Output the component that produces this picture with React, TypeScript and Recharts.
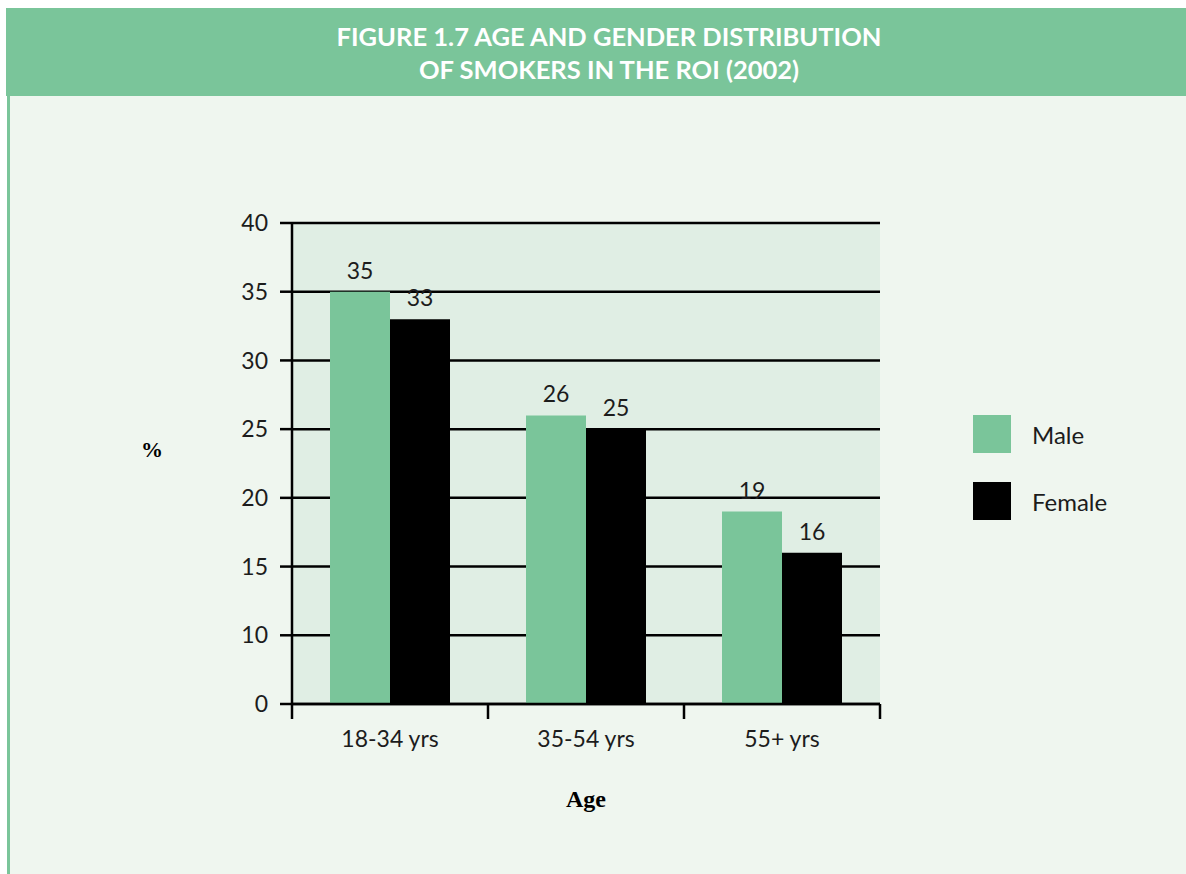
import React from 'react';
import {
  BarChart,
  Bar,
  XAxis,
  YAxis,
  CartesianGrid,
  LabelList,
  Legend,
} from 'recharts';

// Smoking prevalence (%) by age band, split by gender
const ageGroups = ['18-34 yrs', '35-54 yrs', '55+ yrs'];
const maleValues = [35, 26, 19];
const femaleValues = [33, 25, 16];
const seriesNames = ['Male', 'Female'];

// Value axis: gridlines every 5 from 5 to 40, the bottom line carries the "0" label
const yTickValues = [5, 10, 15, 20, 25, 30, 35, 40];
const yTickLabels = ['0', '10', '15', '20', '25', '30', '35', '40'];

const titleLines = ['FIGURE 1.7 AGE AND GENDER DISTRIBUTION', 'OF SMOKERS IN THE ROI (2002)'];

const GREEN = '#7ac59a';
const FONT = 'Lato, "Open Sans", sans-serif';
const TEXT = '#1c1c1c';

const data = ageGroups.map((age, i) => ({
  age,
  Male: maleValues[i],
  Female: femaleValues[i],
}));

const AgeTick = (props: any) => {
  const { x, y, payload, index, visibleTicksCount } = props;
  const half = payload?.offset ?? 98;
  const last = index === (visibleTicksCount ?? ageGroups.length) - 1;
  return (
    <g>
      <line x1={x - half} x2={x - half} y1={y} y2={y + 15} stroke="#000" strokeWidth={2.5} />
      {last && <line x1={x + half} x2={x + half} y1={y} y2={y + 15} stroke="#000" strokeWidth={2.5} />}
      <text x={x} y={y + 43} textAnchor="middle" fontFamily={FONT} fontSize={23} fill={TEXT}>
        {payload.value}
      </text>
    </g>
  );
};

const LegendBox = (props: any) => {
  const items = [...(props.payload || [])].sort(
    (a: any, b: any) => seriesNames.indexOf(a.value) - seriesNames.indexOf(b.value)
  );
  return (
    <div style={{ fontFamily: FONT }}>
      {items.map((it: any, i: number) => (
        <div key={it.value} style={{ display: 'flex', alignItems: 'center', height: 38, marginBottom: i === 0 ? 29 : 0 }}>
          <div style={{ width: 38, height: 38, background: it.color }} />
          <span style={{ marginLeft: 21, fontSize: 24, color: TEXT }}>{it.value}</span>
        </div>
      ))}
    </div>
  );
};

export default function App() {
  return (
    <div style={{ position: 'absolute', left: 0, top: 0, width: 1186, height: 874, background: '#ffffff', overflow: 'hidden' }}>
      <div
        style={{
          position: 'absolute',
          left: 6,
          top: 8,
          width: 1180,
          height: 88,
          background: GREEN,
          color: '#ffffff',
          fontFamily: FONT,
          fontWeight: 700,
          fontSize: 25.5,
          textAlign: 'center',
          lineHeight: '33px',
          paddingTop: 12,
          boxSizing: 'border-box',
        }}
      >
        {titleLines.map((t) => (
          <div key={t} style={{ marginLeft: 26 }}>{t}</div>
        ))}
      </div>
      <div style={{ position: 'absolute', left: 7, top: 96, width: 3, height: 778, background: GREEN }} />
      <div style={{ position: 'absolute', left: 10, top: 96, width: 1176, height: 778, background: '#eff6ef' }} />
      <div style={{ position: 'absolute', left: 0, top: 0 }}>
        <BarChart
          width={1186}
          height={874}
          data={data}
          margin={{ top: 223, right: 306, bottom: 60, left: 100 }}
          barSize={60}
          barGap={0}
        >
          <CartesianGrid vertical={false} stroke="#000" strokeWidth={2.5} fill="#e0eee4" fillOpacity={1} />
          <XAxis
            dataKey="age"
            height={110}
            axisLine={{ stroke: '#000', strokeWidth: 2.5 }}
            tickLine={false}
            tickSize={0}
            tickMargin={0}
            tick={<AgeTick />}
            interval={0}
            label={{
              value: 'Age',
              position: 'insideBottom',
              offset: 7,
              style: { fontFamily: '"Liberation Serif", serif', fontWeight: 700, fontSize: 24, fill: '#000' },
            }}
          />
          <YAxis
            width={192}
            domain={[5, 40]}
            ticks={yTickValues}
            interval={0}
            allowDataOverflow
            axisLine={{ stroke: '#000', strokeWidth: 2.5 }}
            tickLine={{ stroke: '#000', strokeWidth: 2.5 }}
            tickSize={12}
            tickMargin={12}
            tickFormatter={(v: number) => yTickLabels[yTickValues.indexOf(v)]}
            tick={{ fontFamily: FONT, fontSize: 23, fill: TEXT }}
            label={{
              value: '%',
              position: 'insideLeft',
              offset: 41,
              dy: -14,
              style: { fontFamily: '"Liberation Serif", serif', fontWeight: 700, fontSize: 22, fill: '#000' },
            }}
          />
          <YAxis
            yAxisId="frame"
            orientation="right"
            width={0}
            domain={[5, 40]}
            tick={false}
            tickLine={false}
            axisLine={{ stroke: '#000', strokeWidth: 2.5 }}
          />
          <Legend
            layout="vertical"
            align="center"
            verticalAlign="middle"
            content={<LegendBox />}
            wrapperStyle={{ left: 973, top: 415, width: 200 }}
          />
          <Bar dataKey="Male" fill={GREEN} isAnimationActive={false}>
            <LabelList dataKey="Male" position="top" offset={13} style={{ fontFamily: FONT, fontSize: 23, fill: TEXT }} />
          </Bar>
          <Bar dataKey="Female" fill="#000000" isAnimationActive={false}>
            <LabelList dataKey="Female" position="top" offset={13} style={{ fontFamily: FONT, fontSize: 23, fill: TEXT }} />
          </Bar>
        </BarChart>
      </div>
    </div>
  );
}
